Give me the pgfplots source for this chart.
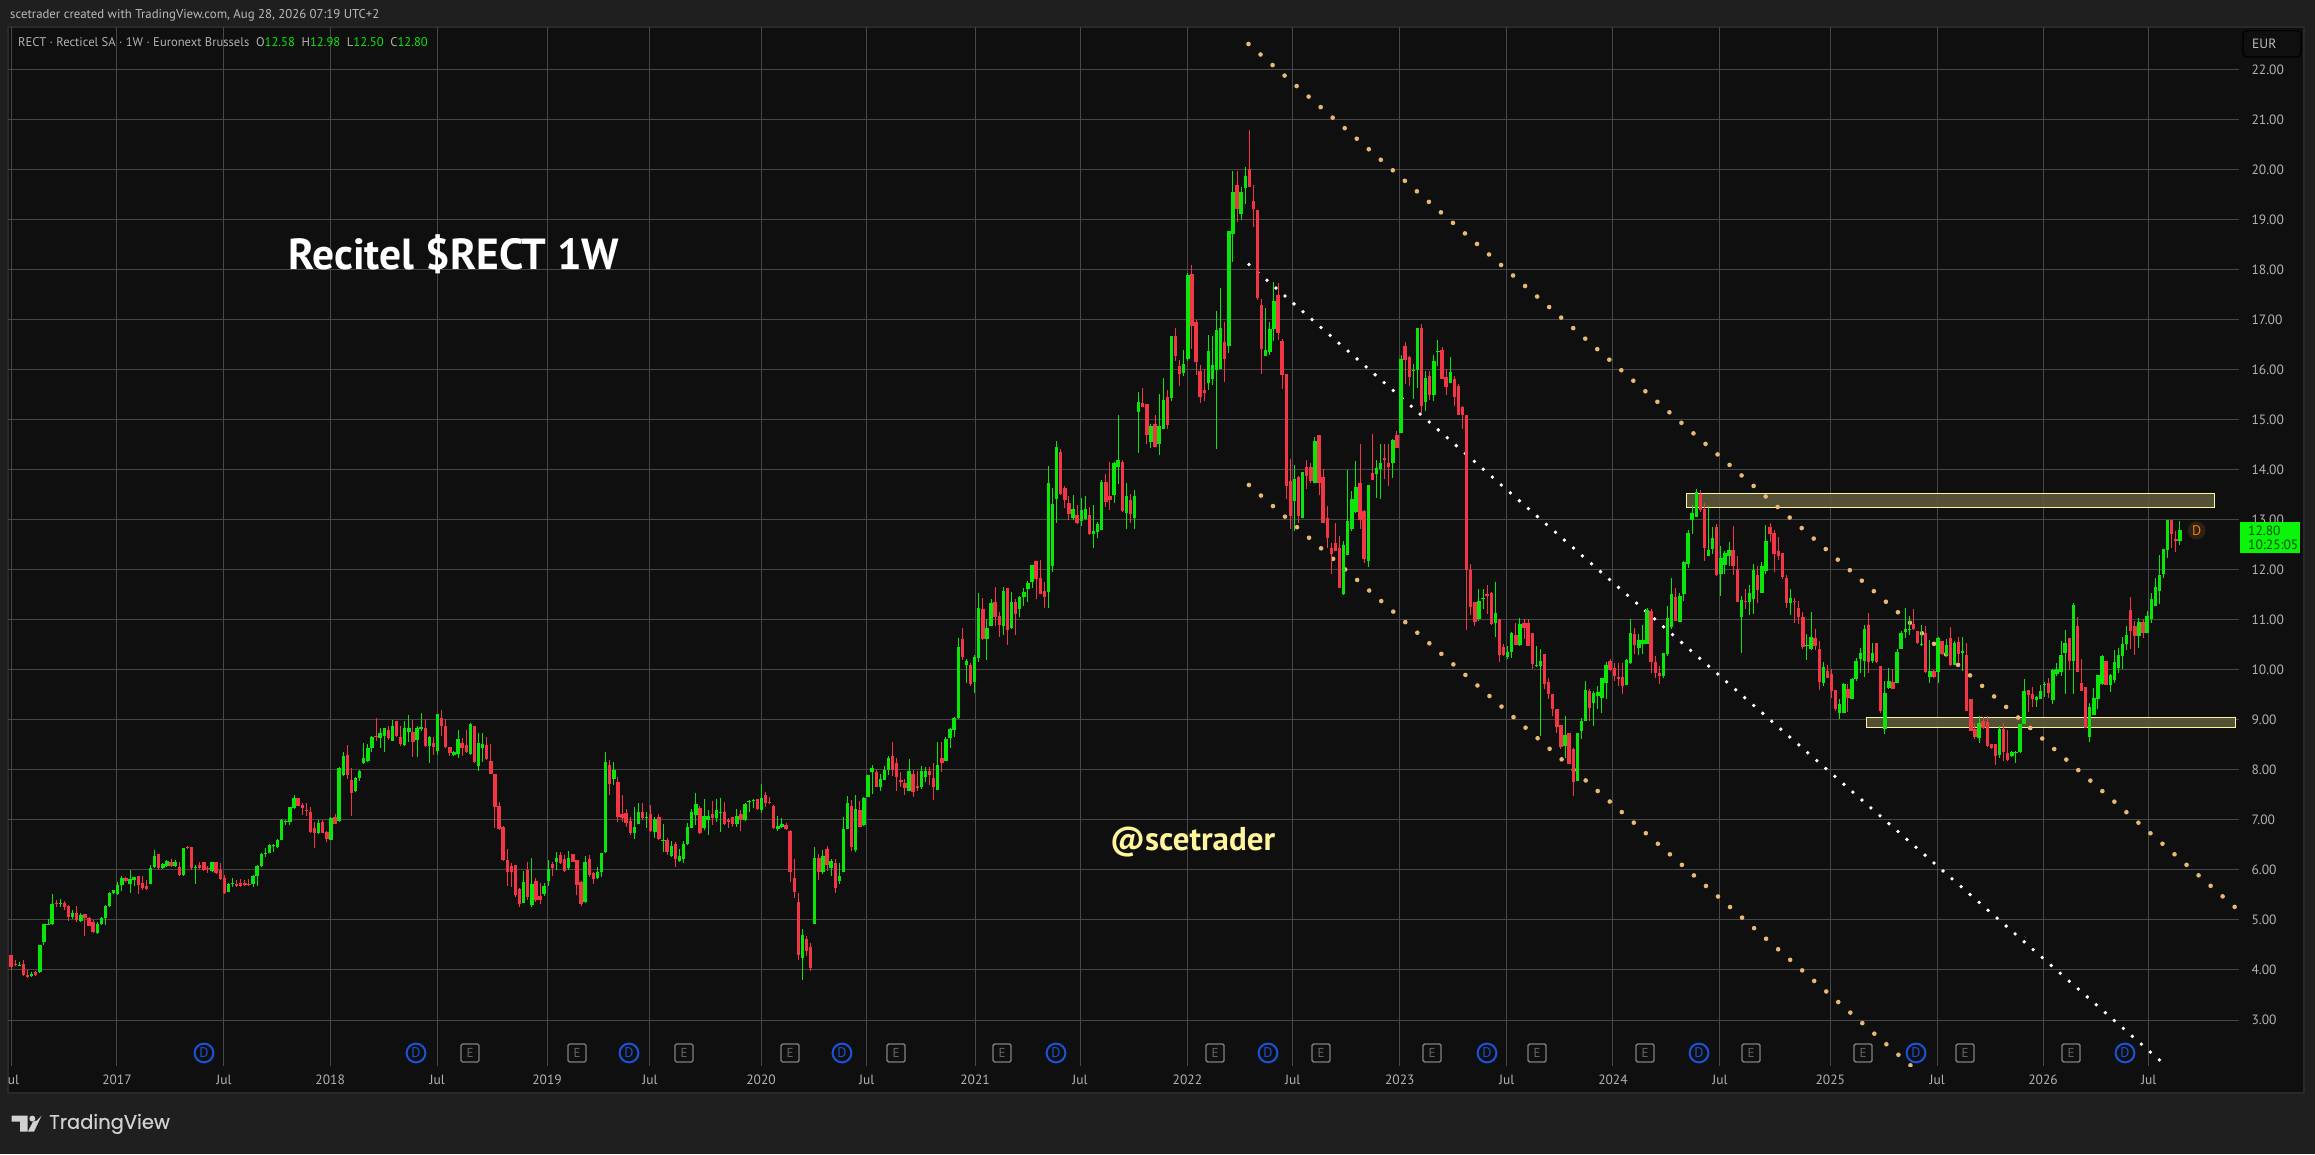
\documentclass[border=0pt]{standalone}
\usepackage{fontspec}
\usepackage{pgfplots}
\usepackage{pgfplotstable}
\pgfplotsset{compat=1.18}
\setmainfont{PT Sans}
\newfontfamily\logofont{Poppins}[FakeBold=0.5]
\definecolor{outerbg}{HTML}{1F1F1F}
\definecolor{panelbg}{HTML}{0F0F0F}
\definecolor{panelln}{HTML}{2A2A2A}
\definecolor{gridc}{HTML}{474747}
\definecolor{lab}{HTML}{B2B2B2}
\definecolor{grn}{HTML}{0AE60A}
\definecolor{rd}{HTML}{F23645}
\definecolor{dotor}{HTML}{E9B872}
\definecolor{rectfill}{HTML}{FFF59D}
\definecolor{rectsolid}{HTML}{5D5A3C}
\definecolor{dblue}{HTML}{1A53D9}
\definecolor{ebox}{HTML}{808080}
\pgfplotstableread{
o h l c
4.29 4.29 4.00 4.06
4.11 4.19 4.08 4.10
4.09 4.16 4.08 4.10
4.12 4.19 3.88 3.89
3.89 3.99 3.84 3.85
3.88 3.96 3.87 3.92
3.96 3.97 3.88 3.89
3.95 4.50 3.93 4.49
4.56 4.92 4.50 4.91
4.90 5.01 4.90 4.92
4.91 5.51 4.90 5.31
5.33 5.39 5.26 5.31
5.31 5.41 5.26 5.33
5.33 5.38 5.19 5.26
5.27 5.29 4.97 5.06
5.05 5.19 5.01 5.13
5.13 5.27 4.96 5.00
4.97 5.13 4.96 5.09
5.11 5.11 4.67 5.03
5.04 5.06 4.88 4.88
4.96 5.00 4.73 4.75
4.73 4.95 4.71 4.92
4.91 5.05 4.90 5.03
5.03 5.29 4.89 5.27
5.28 5.55 5.25 5.54
5.53 5.60 5.51 5.59
5.52 5.76 5.51 5.69
5.69 5.88 5.58 5.83
5.83 5.85 5.75 5.77
5.71 5.99 5.53 5.81
5.79 5.86 5.68 5.86
5.87 5.87 5.51 5.69
5.73 5.87 5.59 5.63
5.68 5.79 5.60 5.61
5.71 6.09 5.71 6.03
6.05 6.39 6.03 6.27
6.31 6.31 6.00 6.03
6.03 6.13 6.01 6.12
6.08 6.19 6.06 6.17
6.16 6.21 6.06 6.07
6.07 6.19 6.05 6.15
6.06 6.16 5.88 5.89
5.89 6.43 5.88 6.43
6.45 6.48 6.42 6.44
6.45 6.46 6.00 6.03
6.03 6.09 5.71 6.05
6.09 6.15 6.01 6.03
6.15 6.16 5.97 6.00
6.03 6.08 5.93 6.01
5.98 6.16 5.97 6.16
6.15 6.16 5.91 5.93
5.99 6.13 5.79 5.81
5.83 5.89 5.51 5.53
5.55 5.73 5.55 5.71
5.71 5.83 5.65 5.73
5.71 5.79 5.65 5.67
5.73 5.81 5.65 5.67
5.73 5.79 5.67 5.69
5.72 5.81 5.68 5.71
5.71 5.89 5.65 5.87
5.87 6.09 5.67 6.08
6.07 6.33 6.05 6.31
6.31 6.43 6.26 6.34
6.33 6.51 6.33 6.50
6.49 6.51 6.35 6.50
6.45 6.61 6.43 6.59
6.59 7.01 6.59 6.99
6.95 6.99 6.89 6.98
6.96 7.26 6.89 7.25
7.23 7.49 7.21 7.43
7.43 7.43 7.27 7.28
7.29 7.33 7.09 7.23
7.20 7.33 7.07 7.17
7.15 7.26 6.73 6.75
6.84 6.96 6.43 6.73
6.73 7.00 6.72 6.93
6.95 7.00 6.73 6.74
6.76 6.77 6.55 6.61
6.59 7.05 6.59 7.04
7.06 7.11 6.91 6.92
6.97 8.05 6.96 8.04
7.89 8.35 7.88 8.28
8.30 8.50 7.81 7.89
7.79 8.03 7.07 7.53
7.57 7.85 7.56 7.84
7.83 7.99 7.77 7.97
8.13 8.53 8.11 8.24
8.17 8.51 8.16 8.43
8.43 8.68 8.36 8.65
8.67 9.03 8.57 8.65
8.63 8.83 8.43 8.73
8.67 8.83 8.35 8.83
8.79 8.88 8.60 8.63
8.57 8.99 8.57 8.88
8.98 8.98 8.65 8.68
8.65 8.88 8.48 8.51
8.49 8.98 8.47 8.83
8.75 9.09 8.56 8.83
8.75 8.99 8.25 8.55
8.59 8.88 8.25 8.83
8.82 9.13 8.78 8.85
8.83 9.01 8.45 8.47
8.47 8.67 8.13 8.66
8.53 8.66 8.29 8.46
8.37 9.11 8.30 9.11
9.03 9.19 8.67 8.88
8.87 9.01 8.44 8.45
8.45 8.46 8.28 8.33
8.29 8.37 8.28 8.35
8.31 8.79 8.24 8.61
8.53 8.63 8.28 8.44
8.49 8.79 8.33 8.35
8.32 8.93 8.31 8.91
8.88 8.88 8.13 8.16
8.07 8.73 7.97 8.53
8.43 8.73 8.16 8.51
8.49 8.66 8.19 8.21
8.18 8.51 7.91 7.92
7.92 7.92 6.83 7.25
7.27 7.36 6.79 6.81
6.85 6.87 6.18 6.19
6.19 6.41 5.68 5.96
6.08 6.13 5.66 5.96
6.09 6.09 5.46 5.49
5.61 5.63 5.25 5.31
5.34 5.97 5.34 5.76
6.00 6.16 5.39 5.45
5.29 6.24 5.26 5.71
5.77 5.83 5.36 5.39
5.47 5.74 5.31 5.39
5.51 5.73 5.48 5.67
5.77 6.19 5.67 6.01
6.11 6.16 5.87 6.04
6.16 6.35 5.99 6.24
6.29 6.35 6.11 6.13
6.21 6.29 5.96 5.97
6.03 6.37 5.99 6.24
6.31 6.31 6.15 6.16
6.19 6.19 5.49 5.69
5.75 5.77 5.28 5.31
5.36 6.28 5.33 6.15
6.21 6.29 5.86 5.89
5.93 5.95 5.71 5.81
5.84 6.06 5.83 5.95
5.95 6.33 5.85 6.33
6.35 8.35 6.34 8.15
8.09 8.19 7.49 7.71
7.81 8.15 7.69 7.99
7.75 7.85 6.96 7.06
7.11 7.50 6.96 7.04
7.13 7.21 6.85 6.93
6.97 7.06 6.69 6.73
6.73 7.25 6.61 6.85
6.91 7.33 6.91 7.15
7.15 7.33 6.99 7.03
7.03 7.16 6.83 7.05
7.11 7.29 6.75 6.77
6.75 7.06 6.63 7.01
7.05 7.11 6.60 6.61
6.57 6.91 6.36 6.59
6.59 6.63 6.29 6.35
6.28 6.57 6.26 6.47
6.51 6.56 6.05 6.21
6.17 6.41 6.16 6.28
6.21 6.57 6.13 6.52
6.51 6.93 6.50 6.86
6.83 7.21 6.83 7.15
7.09 7.54 6.89 7.31
7.23 7.27 6.71 6.74
6.83 7.41 6.79 7.07
6.99 7.19 6.69 7.07
7.11 7.37 6.89 7.03
7.04 7.41 6.96 7.20
7.13 7.43 6.75 7.15
7.16 7.35 6.89 6.91
6.99 7.03 6.84 6.96
7.06 7.06 6.86 6.91
6.91 7.21 6.85 7.08
7.11 7.20 6.77 6.99
6.99 7.33 6.98 7.32
7.35 7.39 7.16 7.37
7.37 7.41 7.23 7.39
7.41 7.41 7.19 7.21
7.19 7.71 7.13 7.43
7.49 7.55 7.26 7.33
7.35 7.45 7.31 7.33
7.27 7.29 6.81 6.83
6.81 7.08 6.77 6.88
6.85 7.03 6.83 6.92
6.89 6.93 6.79 6.81
6.77 6.79 5.76 5.95
5.83 6.21 5.43 5.55
5.35 5.53 4.20 4.29
4.23 4.81 3.79 4.69
4.61 4.68 4.27 4.37
4.45 4.53 3.97 4.03
4.91 6.45 4.91 6.23
6.23 6.31 5.79 5.95
5.95 6.39 5.92 6.27
6.41 6.47 5.97 6.09
6.03 6.21 5.87 6.17
6.13 6.21 5.53 5.63
5.77 6.13 5.71 5.87
5.95 7.05 5.95 6.81
6.81 7.47 6.81 7.33
7.27 7.39 6.37 6.45
6.39 7.49 6.35 7.21
7.19 7.37 6.85 6.85
6.89 7.45 6.87 7.43
7.45 7.89 7.45 7.89
7.95 8.09 7.51 8.03
7.95 8.01 7.65 7.65
7.65 7.91 7.57 7.81
7.79 8.07 7.79 7.99
7.99 8.27 7.89 8.23
8.27 8.55 7.87 7.99
8.13 8.23 7.57 7.85
7.79 7.95 7.65 7.75
7.73 7.81 7.49 7.63
7.57 8.21 7.57 7.97
7.91 7.99 7.45 7.55
7.67 7.97 7.57 7.63
7.65 8.07 7.61 7.97
7.85 8.05 7.75 7.97
7.97 8.05 7.69 7.89
7.83 8.13 7.39 7.65
7.59 8.55 7.59 8.09
8.23 8.55 7.95 8.13
8.17 8.65 8.17 8.61
8.63 8.83 8.43 8.81
8.79 9.05 8.65 9.03
9.03 10.63 9.01 10.45
10.61 10.83 10.19 10.26
10.09 10.21 9.73 10.17
10.09 10.14 9.67 9.71
9.75 10.29 9.53 10.25
10.23 11.53 10.15 11.23
11.21 11.43 10.59 10.61
10.61 11.01 10.19 10.83
10.87 11.41 10.87 11.33
11.35 11.65 10.87 11.05
11.07 11.15 10.65 10.89
10.87 11.65 10.69 11.57
11.63 11.63 10.49 10.79
10.83 11.55 10.81 11.35
11.35 11.41 10.69 11.11
11.21 11.47 11.05 11.45
11.45 11.63 11.27 11.55
11.61 11.77 11.35 11.73
11.75 12.09 11.63 12.09
12.17 12.17 11.41 11.81
11.83 12.19 11.51 11.51
11.57 11.75 11.23 11.45
11.55 14.07 11.23 13.73
12.07 13.63 11.95 13.31
13.41 14.57 12.93 14.45
14.35 14.41 13.49 13.51
13.63 13.67 13.23 13.39
13.33 13.47 12.99 13.11
13.03 13.49 12.99 13.21
13.09 13.29 12.91 12.93
12.97 13.43 12.87 13.19
13.02 13.47 12.99 13.21
13.09 13.25 12.69 12.71
12.71 13.29 12.43 12.77
12.75 12.95 12.63 12.91
12.79 13.79 12.79 13.75
13.75 13.91 13.25 13.35
13.47 14.15 13.19 13.39
13.49 14.15 13.33 14.13
14.05 15.09 13.71 14.19
14.15 14.19 13.15 13.17
13.13 13.73 12.81 13.47
13.39 13.51 12.93 13.11
13.03 13.59 12.81 13.47
15.15 15.55 14.33 15.35
15.33 15.63 15.25 15.25
15.31 15.31 14.51 14.69
14.55 14.91 14.43 14.87
14.91 15.09 14.45 14.45
14.51 15.51 14.29 14.87
14.81 15.83 14.81 15.39
15.45 15.59 14.81 14.89
15.43 16.67 15.37 16.67
16.67 16.83 16.17 16.27
16.07 16.19 15.67 15.91
15.93 16.39 15.87 16.11
16.21 17.93 16.17 17.89
17.91 18.09 16.41 16.87
16.95 16.99 15.89 16.15
15.97 16.09 15.33 15.45
15.59 16.01 15.37 15.53
15.73 16.69 15.59 16.37
15.81 16.67 15.69 16.09
15.99 17.17 14.41 16.79
16.01 17.63 16.01 16.83
16.55 16.95 15.75 16.21
16.47 18.77 16.33 18.77
18.71 19.97 18.15 19.55
19.69 19.97 18.95 19.21
19.11 19.65 18.99 19.55
19.63 20.05 19.31 19.87
20.01 20.79 19.65 19.66
19.37 19.69 18.85 19.21
19.19 19.19 17.39 17.43
17.29 17.41 15.91 16.41
16.27 17.23 16.27 16.39
16.35 16.95 16.29 16.81
16.81 17.75 16.57 17.37
17.49 17.73 16.59 16.73
16.57 16.61 15.61 15.89
15.91 15.91 13.41 13.67
13.77 14.21 12.81 13.07
13.37 14.09 12.77 13.81
13.85 13.87 12.94 13.07
13.03 13.95 13.03 13.95
14.05 14.19 13.61 13.87
14.05 14.14 13.74 13.77
13.74 14.65 13.74 14.57
14.69 14.69 13.49 13.74
13.86 14.01 12.94 12.94
13.03 13.27 12.44 12.63
12.44 12.54 11.91 12.31
12.53 12.93 12.37 12.37
12.43 12.67 11.63 11.63
11.51 12.57 11.49 12.49
12.29 13.99 12.29 12.97
12.81 13.57 12.77 13.42
13.15 14.17 13.14 13.66
13.74 14.51 12.81 12.99
13.17 13.19 12.13 12.21
12.17 13.69 12.05 13.69
13.93 14.71 13.79 13.79
13.91 14.19 13.44 14.03
14.01 14.51 13.41 14.14
14.23 14.51 13.81 14.19
14.13 14.51 13.67 14.05
14.13 14.61 13.83 14.59
14.69 14.78 14.43 14.43
14.73 16.29 14.73 16.21
16.47 16.55 15.71 16.19
16.25 16.27 15.67 15.85
15.97 16.11 15.42 15.99
15.99 16.83 15.64 16.83
16.83 16.91 15.14 15.27
15.36 15.97 15.17 15.83
15.87 15.98 15.39 15.49
15.49 16.30 15.37 16.17
16.36 16.59 16.07 16.38
16.39 16.45 15.81 15.81
15.85 16.02 15.49 15.65
15.73 16.25 15.73 15.95
15.81 15.87 15.27 15.45
15.67 15.71 15.09 15.09
15.25 15.27 14.81 15.09
15.09 15.09 10.79 11.99
11.99 12.11 11.09 11.26
11.35 11.35 10.87 10.95
11.01 11.61 10.97 11.37
11.41 11.61 11.21 11.43
11.51 11.70 11.11 11.47
11.54 11.56 10.89 10.92
10.94 11.76 10.66 11.14
11.01 11.01 10.16 10.29
10.45 10.51 10.27 10.29
10.25 10.47 10.21 10.35
10.35 10.75 10.24 10.74
10.70 10.94 10.49 10.49
10.49 11.03 10.47 10.92
10.93 11.02 10.61 10.84
10.94 11.01 10.47 10.47
10.73 10.73 10.01 10.11
10.07 10.47 10.05 10.09
10.07 10.41 8.67 10.17
10.31 10.31 9.61 9.71
9.75 9.84 9.41 9.51
9.51 9.51 9.07 9.21
9.22 9.22 8.74 8.85
8.90 8.90 8.41 8.46
8.47 9.07 8.24 8.69
8.74 8.74 8.11 8.11
8.41 8.44 7.47 7.75
7.77 8.73 7.77 8.73
8.77 9.04 8.61 8.97
8.97 9.77 8.97 9.59
9.57 9.61 8.97 9.24
9.33 9.57 8.87 9.54
9.47 9.67 9.21 9.55
9.44 9.84 9.14 9.83
9.73 10.15 9.41 10.09
10.18 10.21 9.97 9.99
10.04 10.14 9.77 9.87
9.85 10.14 9.67 9.81
9.85 10.14 9.51 9.67
9.69 10.21 9.69 10.19
10.14 11.01 10.13 10.73
10.72 10.84 10.31 10.49
10.44 10.71 10.29 10.59
10.52 10.89 10.31 10.59
10.51 11.24 10.51 11.19
11.17 11.22 9.94 10.16
10.15 10.27 9.84 9.93
9.93 10.07 9.71 9.87
9.87 10.33 9.84 10.33
10.31 11.27 10.27 11.04
10.85 11.84 10.82 11.51
11.45 11.64 10.97 10.97
10.95 11.53 10.95 11.47
11.52 12.17 11.37 12.15
12.12 12.80 12.03 12.74
13.00 13.29 12.72 13.14
13.06 13.62 13.06 13.56
13.52 13.60 13.16 13.20
13.22 13.33 12.18 12.44
12.28 13.27 12.28 12.40
12.42 12.86 12.32 12.64
12.86 12.92 11.88 11.90
11.92 12.47 11.47 12.24
12.10 12.38 11.92 12.34
12.28 12.56 12.08 12.40
12.40 12.88 11.90 12.08
12.02 12.28 11.35 11.35
11.05 11.47 10.33 11.39
11.38 11.61 11.21 11.37
11.35 11.70 11.10 11.53
11.41 12.12 11.11 12.00
11.90 12.08 11.34 11.59
11.53 12.16 11.53 12.08
11.98 12.90 11.92 12.58
12.86 12.94 12.56 12.72
12.74 12.79 11.96 12.32
12.38 12.66 12.20 12.28
12.34 12.34 11.81 11.86
11.84 11.89 11.24 11.33
11.33 11.61 11.10 11.43
11.37 11.44 10.93 11.35
11.24 11.37 10.91 11.05
11.06 11.15 10.41 10.45
10.47 10.71 10.19 10.49
10.42 11.16 10.40 10.66
10.64 10.82 10.39 10.47
10.41 10.57 9.59 9.75
9.73 10.15 9.67 10.06
9.97 10.09 9.83 9.83
9.91 10.01 9.44 9.57
9.59 9.60 9.17 9.22
9.14 9.41 9.01 9.31
9.13 9.74 9.13 9.72
9.61 9.71 9.16 9.44
9.41 9.84 9.41 9.82
9.81 10.24 9.77 10.18
10.22 10.44 9.94 10.34
10.17 10.90 9.85 10.81
10.89 11.14 9.93 10.16
10.17 10.54 10.14 10.34
10.53 10.53 10.14 10.16
10.07 10.07 9.14 9.17
8.82 9.77 8.71 9.54
9.64 10.04 9.61 9.77
9.75 10.01 9.61 9.61
9.73 10.41 9.73 10.35
10.41 10.77 10.41 10.74
10.75 11.23 10.64 10.81
10.79 11.07 10.70 10.81
10.91 11.21 10.80 10.81
10.77 10.77 10.52 10.54
10.49 10.89 10.47 10.52
10.74 10.87 9.94 9.96
9.86 10.60 9.74 9.97
9.97 10.00 9.84 9.86
9.96 10.66 9.73 10.64
10.57 10.57 10.29 10.31
10.29 10.61 10.27 10.49
10.64 10.85 10.07 10.09
10.09 10.57 10.09 10.54
10.56 10.66 10.14 10.31
10.34 10.66 9.97 10.37
10.29 10.53 9.17 9.17
9.42 9.42 8.77 8.77
8.81 8.93 8.61 8.65
8.64 9.07 8.53 8.93
8.97 9.06 8.81 8.84
8.95 9.07 8.46 8.47
8.52 8.52 8.41 8.44
8.51 8.51 8.09 8.27
8.29 8.87 8.24 8.81
8.82 8.94 8.17 8.35
8.33 8.80 8.17 8.19
8.27 8.37 8.25 8.36
8.33 8.37 8.14 8.35
8.36 8.91 8.34 8.91
8.91 9.81 8.91 9.57
9.59 9.59 9.16 9.49
9.51 9.66 9.25 9.41
9.39 9.47 9.25 9.45
9.41 9.69 9.41 9.57
9.69 9.75 9.45 9.71
9.73 9.83 9.44 9.53
9.39 10.01 9.31 9.99
9.91 10.14 9.87 10.01
9.95 10.57 9.87 10.29
10.33 10.79 9.51 10.54
10.63 10.63 9.99 10.17
10.17 11.34 9.51 11.29
10.87 11.06 9.96 9.96
9.73 10.22 9.57 9.57
9.65 9.65 8.83 8.83
8.65 9.34 8.55 9.25
9.09 9.63 9.09 9.43
9.41 9.89 9.21 9.89
9.71 10.29 9.69 10.27
10.17 10.17 9.69 9.69
9.69 9.91 9.55 9.89
9.79 10.39 9.74 10.15
10.03 10.43 9.93 10.29
10.27 10.66 10.01 10.51
10.51 10.87 10.39 10.69
11.19 11.45 10.41 10.77
10.87 10.97 10.29 10.67
10.67 11.03 10.44 10.95
10.95 11.01 10.63 10.73
10.73 11.18 10.73 11.07
11.01 11.53 10.93 11.41
11.27 11.83 11.27 11.65
11.57 12.29 11.31 11.89
11.91 12.41 11.83 12.41
12.39 13.00 12.23 13.00
12.99 12.99 12.43 12.71
12.61 12.77 12.35 12.57
12.58 12.98 12.50 12.80
}\candles
\begin{document}
\begin{tikzpicture}
\useasboundingbox (0,0) rectangle (2315pt,1154pt);
\fill[outerbg] (0,0) rectangle (2315pt,1154pt);
\begin{scope}[x=1pt,y=-1pt,shift={(0pt,1154pt)}]
\filldraw[fill=panelbg,draw=panelln,line width=1.5pt] (8,27) rectangle (2304,1093);
\end{scope}
\begin{axis}[
  at={(8pt,88pt)},anchor=south west,scale only axis,
  width=2231pt,height=1039pt,
  xmin=-0.78,xmax=543.4,ymin=2.08,ymax=22.86,
  axis line style={draw=none},
  major tick length=0pt,
  grid=major,grid style={draw=gridc,line width=1pt},
  xtick={0,25.8,51.9,77.8,103.9,130.7,155.8,182.9,208.7,235.1,260.7,286.9,312.6,338.7,364.8,390.7,416.8,443.7,469.8,495.6,521.4},
  xticklabels={,2017,Jul,2018,Jul,2019,Jul,2020,Jul,2021,Jul,2022,Jul,2023,Jul,2024,Jul,2025,Jul,2026,Jul},
  xticklabel style={text=lab,font=\fontsize{13.5}{16}\selectfont,anchor=center,yshift=-14pt},
  ytick={3,4,...,22},
  yticklabel pos=right,
  yticklabel style={text=lab,font=\fontsize{13.5}{16}\selectfont,anchor=west,xshift=9pt,
    /pgf/number format/.cd,fixed,fixed zerofill,precision=2,assume math mode=true},
]
% zones
\filldraw[fill=rectsolid,fill opacity=0.88,draw=rectfill,draw opacity=1,line width=0.9pt] (axis cs:408.7,13.54) rectangle (axis cs:537.4,13.26);
\filldraw[fill=rectsolid,fill opacity=0.88,draw=rectfill,draw opacity=1,line width=0.9pt] (axis cs:452.6,9.06) rectangle (axis cs:542.6,8.86);
% channels
\addplot[draw=dotor,line width=4.6pt,line cap=round,dash pattern=on 0pt off 15.98pt] coordinates {(301.8,22.52) (542.5,5.25)};
\addplot[draw=dotor,line width=4.6pt,line cap=round,dash pattern=on 0pt off 16.0pt] coordinates {(301.9,13.70) (463.3,2.09)};
\addplot[draw=white,line width=3.8pt,line cap=round,dash pattern=on 0pt off 11.97pt] coordinates {(301.9,18.11) (524.7,2.15)};
% wicks
\addplot[draw=none,forget plot,error bars/.cd,y dir=both,y explicit,error mark=none,error bar style={draw=grn,line width=1pt}]
  table[x expr={\thisrow{c}>=\thisrow{o}?\coordindex:nan},y=o,y error plus expr=\thisrow{h}-\thisrow{o},y error minus expr=\thisrow{o}-\thisrow{l}] {\candles};
\addplot[draw=none,forget plot,error bars/.cd,y dir=both,y explicit,error mark=none,error bar style={draw=rd,line width=1pt}]
  table[x expr={\thisrow{c}<\thisrow{o}?\coordindex:nan},y=o,y error plus expr=\thisrow{h}-\thisrow{o},y error minus expr=\thisrow{o}-\thisrow{l}] {\candles};
% bodies
\addplot[draw=none,forget plot,error bars/.cd,y dir=plus,y explicit,error mark=none,error bar style={draw=grn,line width=3.4pt}]
  table[x expr={\thisrow{c}>=\thisrow{o}?\coordindex:nan},y=o,y error plus expr=\thisrow{c}-\thisrow{o}] {\candles};
\addplot[draw=none,forget plot,error bars/.cd,y dir=minus,y explicit,error mark=none,error bar style={draw=rd,line width=3.4pt}]
  table[x expr={\thisrow{c}<\thisrow{o}?\coordindex:nan},y=o,y error minus expr=\thisrow{o}-\thisrow{c}] {\candles};
\end{axis}
\begin{scope}[x=1pt,y=-1pt,shift={(0pt,1154pt)}]
% top texts
\node[anchor=west,inner sep=0,text=lab!90!white,font=\fontsize{12.8}{15}\selectfont] at (10,15) {scetrader created with TradingView.com, Aug 28, 2026 07:19 UTC+2};
\node[anchor=west,inner sep=0,font=\fontsize{12.6}{15}\selectfont] at (18,42) {\textcolor{lab}{RECT · Recticel SA · 1W · Euronext Brussels\ \ O}\textcolor{grn}{12.58}\textcolor{lab}{\ \ H}\textcolor{grn}{12.98}\textcolor{lab}{\ \ L}\textcolor{grn}{12.50}\textcolor{lab}{\ \ C}\textcolor{grn}{12.80}};
% clipped first label
\begin{scope}
\clip (8,1068) rectangle (40,1092);
\node[anchor=center,inner sep=0,text=lab,font=\fontsize{13.5}{16}\selectfont] at (11.5,1080) {Jul};
\end{scope}
% annotations
\node[anchor=west,inner sep=0,text=white,font=\fontsize{43.5}{50}\selectfont\bfseries] at (288,254) {Recitel \$RECT 1W};
\node[anchor=west,inner sep=0,text=rectfill,font=\fontsize{33}{40}\selectfont\bfseries] at (1110,842) {@scetrader};
% EUR
\draw[draw=panelln!130!white,rounded corners=4pt,line width=1.2pt] (2243,30.5) rectangle (2301,57);
\node[anchor=west,inner sep=0,text=lab!90!white,font=\fontsize{13.5}{16}\selectfont] at (2252,44) {EUR};
% last price
\fill[fill={rgb,255:red,10;green,245;blue,10}] (2240,522) rectangle (2299.7,552.7);
\node[anchor=west,inner sep=0,text=black!70!green,font=\fontsize{13.5}{16}\selectfont] at (2248,530.5) {12.80};
\node[anchor=west,inner sep=0,text=black!70!green,font=\fontsize{13.5}{16}\selectfont] at (2248,545) {10:25:05};
\fill[fill={rgb,255:red,44;green,33;blue,23}] (2196.7,530.5) circle (9);
\node[inner sep=0,text={rgb,255:red,245;green,124;blue,0},font=\fontsize{14}{16}\selectfont] at (2196.7,530.5) {D};
% D icons
\foreach \px in {204,416,629,842,1056,1268,1487,1699,1916,2125}{
  \draw[dblue,line width=2pt] (\px,1053) circle (9.4);
  \node[inner sep=0,text=dblue,font=\fontsize{14}{16}\selectfont] at (\px,1053) {D};
}
% E icons
\foreach \px in {470,577,684,790,896,1002,1215,1321,1432,1537,1645,1751,1863,1965,2071}{
  \draw[ebox,line width=1.4pt,rounded corners=1.5pt] (\px-9,1044) rectangle (\px+9,1062);
  \node[inner sep=0,text=ebox!120!white,font=\fontsize{13}{15}\selectfont] at (\px,1053) {E};
}
% logo
\fill[lab!60!white] (11.5,1115.7) -- (27.5,1115.7) -- (27.5,1131.7) -- (20,1131.7) -- (20,1121.7) -- (11.5,1121.7) -- cycle;
\fill[lab!60!white] (32.3,1118.6) circle (3);
\fill[lab!60!white] (41.5,1115.7) -- (34,1131.7) -- (27.8,1131.7) -- (33,1121.6) -- (37,1120.5) -- cycle;
\node[anchor=west,inner sep=0,text=lab!60!white,font=\logofont\fontsize{19.5}{24}\selectfont] at (49,1124) {TradingView};
\end{scope}
\end{tikzpicture}
\end{document}
